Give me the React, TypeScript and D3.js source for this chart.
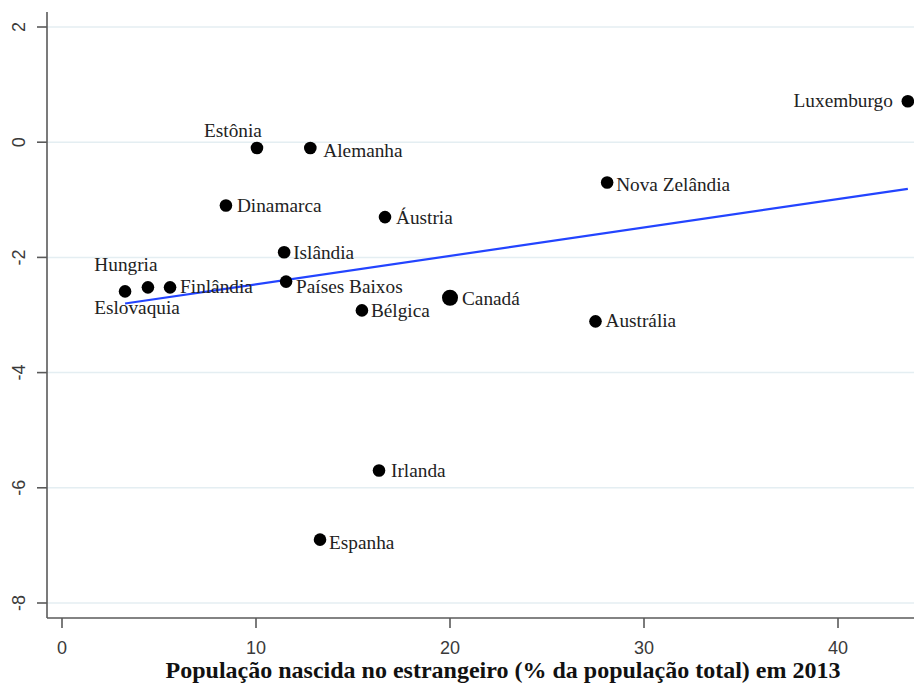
import React from "react";
import * as d3 from "d3";

const countries = [
  "Luxemburgo", "Estônia", "Alemanha", "Nova Zelândia", "Dinamarca", "Áustria",
  "Islândia", "Eslovaquia", "Hungria", "Finlândia", "Países Baixos", "Canadá",
  "Bélgica", "Austrália", "Irlanda", "Espanha",
];
const foreignBorn = [43.6, 10.05, 12.8, 28.1, 8.45, 16.65, 11.45, 3.25, 4.43, 5.57, 11.55, 20.0, 15.46, 27.5, 16.34, 13.3];
const yValues = [0.71, -0.1, -0.1, -0.7, -1.1, -1.3, -1.91, -2.59, -2.52, -2.52, -2.42, -2.7, -2.92, -3.11, -5.7, -6.9];
const xTicks = [0, 10, 20, 30, 40];
const yTicks = [2, 0, -2, -4, -6, -8];
const fitIntercept = -2.96;
const fitSlope = 0.0493;
const xTitle = "População nascida no estrangeiro (% da população total) em 2013";

// label placement (style): [dx, dy, anchor]
const labelPlacement: Record<string, [number, number, string]> = {
  "Luxemburgo": [-15, 6, "end"],
  "Estônia": [-24, -11, "middle"],
  "Alemanha": [13, 9, "start"],
  "Nova Zelândia": [9, 8, "start"],
  "Dinamarca": [11, 6, "start"],
  "Áustria": [11, 7, "start"],
  "Islândia": [9, 7, "start"],
  "Eslovaquia": [12, 23, "middle"],
  "Hungria": [-22, -16, "middle"],
  "Finlândia": [10, 6, "start"],
  "Países Baixos": [10, 11, "start"],
  "Canadá": [12, 7, "start"],
  "Bélgica": [9, 7, "start"],
  "Austrália": [10, 6, "start"],
  "Irlanda": [12, 6, "start"],
  "Espanha": [9, 9, "start"],
};

export default function App() {
  const W = 914, H = 686;
  const x = d3.scaleLinear().domain([0, 40]).range([62, 838]);
  const y = d3.scaleLinear().domain([-8, 2]).range([603, 27]);
  const axisX = 47, axisY = 618, topY = 12, rightX = 914;
  const axisColor = "#5a5a5a";
  const xMin = d3.min(foreignBorn) as number;
  const xMax = d3.max(foreignBorn) as number;
  const line = d3.line<number>().x((d) => x(d)).y((d) => y(fitIntercept + fitSlope * d));

  return (
    <svg width={W} height={H} style={{ position: "absolute", left: 0, top: 0, background: "#fff" }}>
      {yTicks.map((t) => (
        <line key={"g" + t} x1={axisX} x2={rightX} y1={y(t)} y2={y(t)} stroke="#e4eef2" strokeWidth={1.5} />
      ))}
      <line x1={axisX} x2={axisX} y1={topY} y2={axisY} stroke={axisColor} strokeWidth={1.6} />
      <line x1={axisX} x2={rightX} y1={axisY} y2={axisY} stroke={axisColor} strokeWidth={1.6} />
      {yTicks.map((t) => (
        <g key={"yt" + t}>
          <line x1={axisX - 10} x2={axisX} y1={y(t)} y2={y(t)} stroke={axisColor} strokeWidth={1.6} />
          <text
            transform={`translate(25,${y(t)}) rotate(-90)`}
            textAnchor="middle"
            fontFamily="Liberation Sans, Arial, sans-serif"
            fontSize={18}
            fill="#3a3a3a"
          >
            {t}
          </text>
        </g>
      ))}
      {xTicks.map((t) => (
        <g key={"xt" + t}>
          <line x1={x(t)} x2={x(t)} y1={axisY} y2={axisY + 10} stroke={axisColor} strokeWidth={1.6} />
          <text x={x(t)} y={654} textAnchor="middle" fontFamily="Liberation Sans, Arial, sans-serif" fontSize={18} fill="#3a3a3a">
            {t}
          </text>
        </g>
      ))}
      <text x={503} y={678} textAnchor="middle" fontFamily="Liberation Serif, Times New Roman, serif" fontWeight="bold" fontSize={24} fill="#111">
        {xTitle}
      </text>
      <path d={line([xMin, xMax]) || ""} stroke="#2344ff" strokeWidth={2.2} fill="none" />
      {countries.map((c, i) => {
        const cx = x(foreignBorn[i]);
        const cy = y(yValues[i]);
        const [dx, dy, anchor] = labelPlacement[c];
        return (
          <g key={c}>
            <circle cx={cx} cy={cy} r={c === "Canadá" ? 8 : 6.3} fill="#000" />
            <text
              x={cx + dx}
              y={cy + dy}
              textAnchor={anchor as any}
              fontFamily="Liberation Serif, Times New Roman, serif"
              fontSize={19.3}
              fill="#222"
            >
              {c}
            </text>
          </g>
        );
      })}
    </svg>
  );
}
